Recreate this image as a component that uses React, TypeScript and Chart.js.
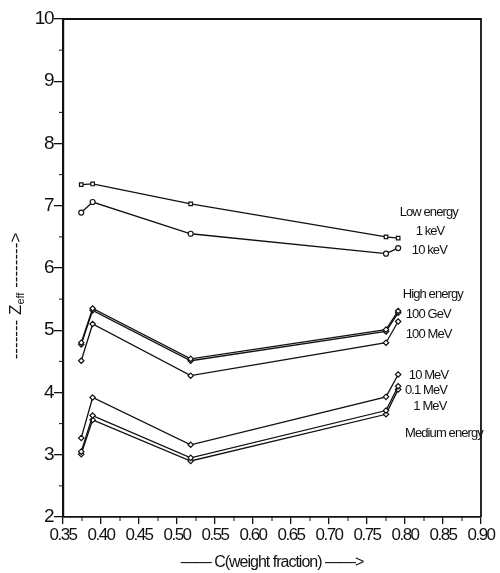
import React, { useEffect, useRef } from "react";
import { Chart, registerables } from "chart.js";

Chart.register(...registerables);

const xValues = [0.374, 0.389, 0.518, 0.775, 0.791];

const keV1 = [7.34, 7.35, 7.03, 6.5, 6.48];
const keV10 = [6.89, 7.06, 6.55, 6.23, 6.32];
const geV100 = [4.8, 5.35, 4.54, 5.01, 5.31];
const geV100b = [4.77, 5.32, 4.51, 4.98, 5.28];
const meV100 = [4.51, 5.1, 4.27, 4.8, 5.14];
const meV10 = [3.27, 3.92, 3.16, 3.93, 4.29];
const meV01 = [3.05, 3.63, 2.95, 3.71, 4.1];
const meV1 = [3.01, 3.56, 2.9, 3.65, 4.05];

const xTicks = [0.35, 0.4, 0.45, 0.5, 0.55, 0.6, 0.65, 0.7, 0.75, 0.8, 0.85, 0.9];
const yTicks = [2, 3, 4, 5, 6, 7, 8, 9, 10];

const labelTexts = ["Low energy", "1 keV", "10 keV", "High energy", "100 GeV", "100 MeV", "10 MeV", "0.1 MeV", "1 MeV", "Medium energy"];
const labelX = [0.793, 0.814, 0.809, 0.797, 0.801, 0.801, 0.805, 0.8, 0.811, 0.8];
const labelY = [6.9, 6.58, 6.29, 5.57, 5.25, 4.93, 4.27, 4.03, 3.77, 3.35];

const FONT = '"Liberation Sans", Arial, sans-serif';

function mk(values: number[], style: string, radius = 2.7) {
  return {
    data: values.map((y, i) => ({ x: xValues[i], y })),
    borderColor: "#111",
    borderWidth: 1.3,
    pointStyle: style,
    pointRadius: radius,
    pointBackgroundColor: "#fff",
    pointBorderColor: "#111",
    pointBorderWidth: 1.2,
    tension: 0,
    fill: false,
  };
}

const decorPlugin = {
  id: "decor",
  beforeDraw(chart: any) {
    chart.ctx.letterSpacing = "-1.5px";
  },
  afterDraw(chart: any) {
    const { ctx, chartArea: a, scales } = chart;
    const xs = scales.x;
    const ys = scales.y;
    ctx.save();
    ctx.strokeStyle = "#111";
    // frame top/right
    ctx.lineWidth = 1.8;
    ctx.beginPath();
    ctx.moveTo(a.left, a.top);
    ctx.lineTo(a.right, a.top);
    ctx.lineTo(a.right, a.bottom);
    ctx.stroke();
    // minor ticks
    ctx.lineWidth = 1;
    ctx.beginPath();
    for (let i = 0; i < xTicks.length - 1; i++) {
      const v = (xTicks[i] + xTicks[i + 1]) / 2;
      const px = xs.getPixelForValue(v);
      ctx.moveTo(px, a.bottom);
      ctx.lineTo(px, a.bottom + 4);
    }
    for (let i = 0; i < yTicks.length - 1; i++) {
      const v = (yTicks[i] + yTicks[i + 1]) / 2;
      const py = ys.getPixelForValue(v);
      ctx.moveTo(a.left, py);
      ctx.lineTo(a.left - 4, py);
    }
    ctx.stroke();

    // annotations
    ctx.fillStyle = "#111";
    ctx.letterSpacing = "-0.9px";
    ctx.font = `13px ${FONT}`;
    ctx.textAlign = "left";
    ctx.textBaseline = "middle";
    for (let i = 0; i < labelTexts.length; i++) {
      ctx.fillText(labelTexts[i], xs.getPixelForValue(labelX[i]), ys.getPixelForValue(labelY[i]));
    }

    // x title
    ctx.letterSpacing = "-1px";
    ctx.font = `16px ${FONT}`;
    ctx.textAlign = "center";
    ctx.fillText("—— C(weight fraction) ——>", (a.left + a.right) / 2, 563);

    // y title (rotated)
    ctx.translate(16, 296);
    ctx.rotate(-Math.PI / 2);
    ctx.letterSpacing = "0px";
    const p1 = "------- Z";
    const sub = "eff";
    const p2 = " -------->";
    ctx.font = `17px ${FONT}`;
    const w1 = ctx.measureText(p1).width;
    const w3 = ctx.measureText(p2).width;
    ctx.font = `11px ${FONT}`;
    const w2 = ctx.measureText(sub).width;
    const total = w1 + w2 + w3;
    let x0 = -total / 2;
    ctx.textAlign = "left";
    ctx.font = `17px ${FONT}`;
    ctx.fillText(p1, x0, 0);
    x0 += w1;
    ctx.font = `11px ${FONT}`;
    ctx.fillText(sub, x0, 5);
    x0 += w2;
    ctx.font = `17px ${FONT}`;
    ctx.fillText(p2, x0, 0);
    ctx.restore();
  },
};

export default function App() {
  const ref = useRef<HTMLCanvasElement>(null);
  useEffect(() => {
    if (!ref.current) return;
    const chart = new Chart(ref.current, {
      type: "line",
      data: {
        datasets: [
          mk(keV1, "rect", 2.5),
          mk(keV10, "circle", 2.5),
          mk(geV100, "rectRot"),
          mk(geV100b, "rectRot"),
          mk(meV100, "rectRot"),
          mk(meV10, "rectRot"),
          mk(meV01, "rectRot"),
          mk(meV1, "rectRot"),
        ] as any,
      },
      options: {
        animation: false,
        responsive: false,
        layout: { padding: { left: 0, right: 19, top: 19, bottom: 0 } },
        plugins: { legend: { display: false }, tooltip: { enabled: false } },
        scales: {
          x: {
            type: "linear",
            min: 0.35,
            max: 0.9,
            afterBuildTicks: (s: any) => {
              s.ticks = xTicks.map((v) => ({ value: v }));
            },
            afterFit: (s: any) => {
              s.height = 56;
            },
            ticks: {
              callback: (v: any) => Number(v).toFixed(2),
              font: { size: 17, family: FONT },
              color: "#111",
              padding: 1,
              maxRotation: 0,
              autoSkip: false,
            },
            grid: { drawOnChartArea: false, drawTicks: true, tickLength: 7, color: "#111", lineWidth: 1.3 },
            border: { display: true, color: "#111", width: 1.8 },
          },
          y: {
            type: "linear",
            min: 2,
            max: 10,
            afterBuildTicks: (s: any) => {
              s.ticks = yTicks.map((v) => ({ value: v }));
            },
            afterFit: (s: any) => {
              s.width = 63;
            },
            ticks: {
              font: { size: 19, family: FONT },
              color: "#111",
              padding: 1,
            },
            grid: { drawOnChartArea: false, drawTicks: true, tickLength: 9, color: "#111", lineWidth: 1.3 },
            border: { display: true, color: "#111", width: 2.2 },
          },
        },
      },
      plugins: [decorPlugin],
    });
    return () => chart.destroy();
  }, []);
  return (
    <div style={{ position: "absolute", left: 0, top: 0, width: 500, height: 573, background: "#fff" }}>
      <canvas ref={ref} width={500} height={573} />
    </div>
  );
}
